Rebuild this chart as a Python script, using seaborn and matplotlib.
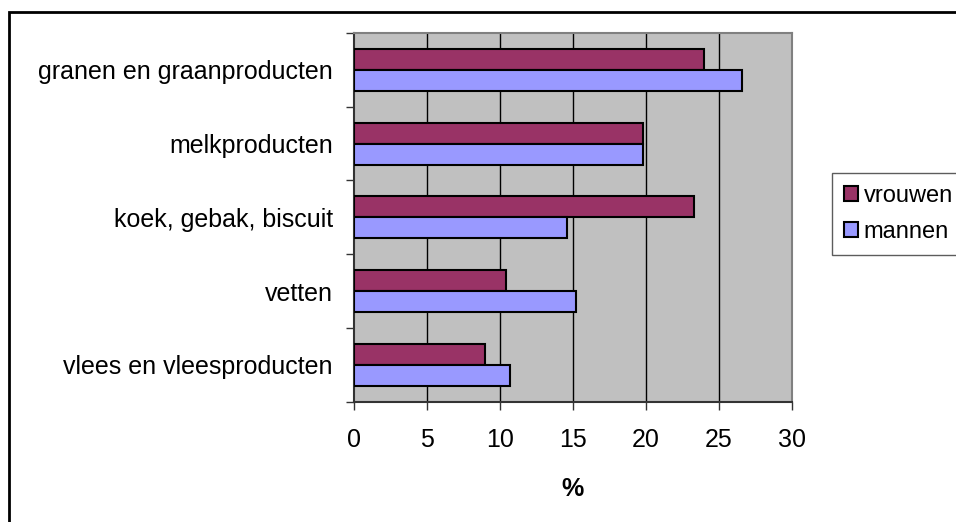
import seaborn as sns
import matplotlib.pyplot as plt
import pandas as pd
from matplotlib.patches import Rectangle

# gegevens
categorieen = ['granen en graanproducten', 'melkproducten', 'koek, gebak, biscuit',
               'vetten', 'vlees en vleesproducten']
vrouwen = [24.0, 19.8, 23.3, 10.4, 9.0]
mannen = [26.6, 19.8, 14.6, 15.2, 10.7]
x_ticks = [0, 5, 10, 15, 20, 25, 30]

df = pd.DataFrame({
    'categorie': categorieen * 2,
    'waarde': vrouwen + mannen,
    'geslacht': ['vrouwen'] * 5 + ['mannen'] * 5,
})

sns.set_style('white')
plt.rcParams['font.family'] = ['Liberation Sans', 'DejaVu Sans']
plt.rcParams['text.color'] = 'black'
plt.rcParams['xtick.color'] = 'black'
plt.rcParams['ytick.color'] = 'black'
plt.rcParams['axes.labelcolor'] = 'black'

fig = plt.figure(figsize=(9.56, 5.22), dpi=100)
ax = fig.add_axes([0.370, 0.2305, 0.458, 0.7065])
ax.set_facecolor('#C0C0C0')

sns.barplot(data=df, y='categorie', x='waarde', hue='geslacht', orient='h',
            palette={'vrouwen': '#993366', 'mannen': '#9999FF'}, saturation=1,
            edgecolor='black', linewidth=1.5, width=0.57, ax=ax, zorder=3)

ax.set_xlim(0, 30)
ax.set_ylim(4.5, -0.5)
ax.set_xticks(x_ticks)
ax.set_xticklabels([str(t) for t in x_ticks], fontsize=18)
ax.set_yticks(range(len(categorieen)))
ax.set_yticklabels(categorieen, fontsize=18)
ax.set_yticks([i - 0.5 for i in range(len(categorieen) + 1)], minor=True)
ax.tick_params(axis='y', which='major', length=0, pad=15)
ax.tick_params(axis='y', which='minor', length=6, width=1, color='#333333', left=True)
ax.tick_params(axis='x', length=6, width=1, color='#333333', bottom=True, pad=13)
ax.set_ylabel('')
ax.set_xlabel('%', fontsize=18, fontweight='bold', labelpad=18)

ax.grid(False)
for v in x_ticks[1:-1]:
    ax.axvline(v, color='black', lw=1, zorder=1)

for s in ['top', 'right']:
    ax.spines[s].set_color('#808080')
    ax.spines[s].set_linewidth(1.5)
for s in ['left', 'bottom']:
    ax.spines[s].set_color('#333333')
    ax.spines[s].set_linewidth(1.5)
    ax.spines[s].set_visible(True)

handles, labels = ax.get_legend_handles_labels()
ax.legend_.remove()
leg = fig.legend(handles, labels, loc='upper left', bbox_to_anchor=(0.870, 0.669),
                 borderaxespad=0, fontsize=17, frameon=True, fancybox=False,
                 edgecolor='#333333', handlelength=0.6, handleheight=0.6,
                 handletextpad=0.25, labelspacing=0.6, borderpad=0.5)
leg.get_frame().set_linewidth(1)

# buitenrand van de grafiek
fig.patches.append(Rectangle((0.0094, -0.2), 2, 1.177, transform=fig.transFigure,
                             fill=False, edgecolor='black', lw=2))

fig.savefig('out.png', dpi=100)
